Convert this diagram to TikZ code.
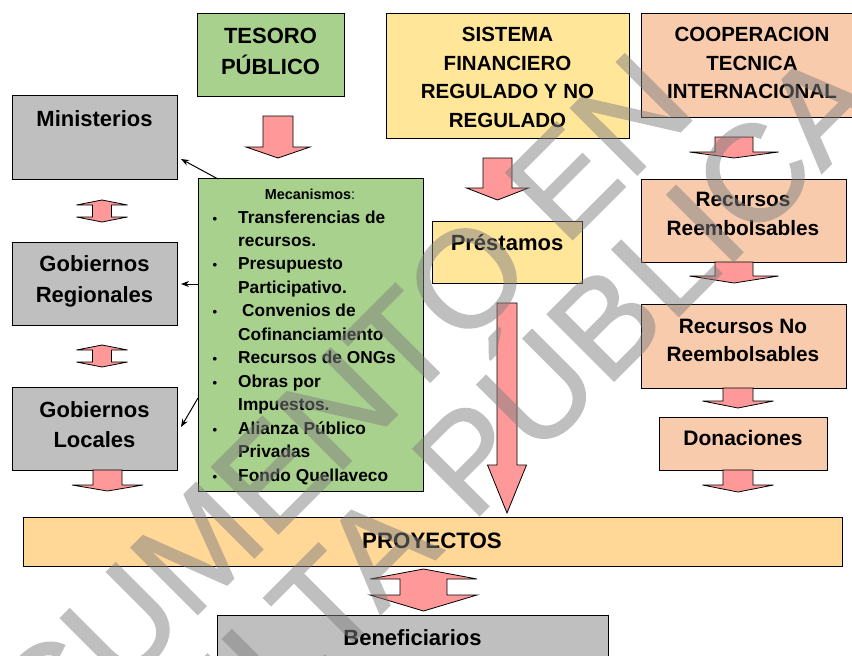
\documentclass[tikz,border=0pt]{standalone}
\usepackage{fontspec}
\setmainfont{Liberation Sans}
\newfontfamily\wmfont[FakeBold=1.2]{Liberation Sans}
\usetikzlibrary{arrows.meta}
\definecolor{cgreen}{HTML}{A9D18E}
\definecolor{cyellow}{HTML}{FFE699}
\definecolor{cpeach}{HTML}{F8CBAD}
\definecolor{cgray}{HTML}{BFBFBF}
\definecolor{corange}{HTML}{FFD797}
\definecolor{cpink}{HTML}{FF9999}
\newcommand{\BArrowDown}[6]{\draw[barrow] ({#1-#5},#2) -- ({#1+#5},#2) -- ({#1+#5},#3) -- ({#1+#6},#3) -- (#1,#4) -- ({#1-#6},#3) -- ({#1-#5},#3) -- cycle;}
\newcommand{\BArrowBoth}[7]{\draw[barrow] (#1,#2) -- ({#1+#7},#3) -- ({#1+#6},#3) -- ({#1+#6},#4) -- ({#1+#7},#4) -- (#1,#5) -- ({#1-#7},#4) -- ({#1-#6},#4) -- ({#1-#6},#3) -- ({#1-#7},#3) -- cycle;}
\newcommand{\MkBox}[6]{\node[box, fill=#6, minimum width={(#4-#2)*1pt}, minimum height={(#5-#3)*1pt}] (#1) at (#2,#3) {};}
\begin{document}
\begin{tikzpicture}[x=1pt,y=-1pt,
  box/.style={draw=black, line width=1.4pt, inner sep=0pt, anchor=north west},
  txt/.style={anchor=base, inner sep=0pt, font=\bfseries\fontsize{#1}{#1}\selectfont},
  txt/.default=22,
  itm/.style={anchor=base west, inner sep=0pt, font=\bfseries\fontsize{17.3}{17.3}\selectfont},
  bul/.style={anchor=base, inner sep=0pt, font=\bfseries\fontsize{13}{13}\selectfont},
  barrow/.style={fill=cpink, draw=black, line width=0.8pt, line join=miter},
  thinarr/.style={-{Stealth[length=8pt,width=6pt]}, line width=1pt},
  wm/.style={anchor=base, inner sep=0pt, rotate=45, text=black!50,
     font=\wmfont\fontsize{137}{137}\selectfont}]
\useasboundingbox (0,0) rectangle (852,656);
\clip (0,0) rectangle (852,656);
\fill[white] (0,0) rectangle (852,656);

% boxes
\MkBox{tes}{197}{13}{344}{96}{cgreen}
\MkBox{sis}{386}{13}{629}{138}{cyellow}
\MkBox{coo}{641}{13}{870}{117}{cpeach}
\MkBox{min}{12}{95}{177}{179}{cgray}
\MkBox{reg}{12}{242}{177}{325}{cgray}
\MkBox{loc}{12}{387}{177}{470}{cgray}
\MkBox{mec}{198}{178}{423}{491}{cgreen}
\MkBox{pre}{432}{221}{582}{283}{cyellow}
\MkBox{rre}{641}{179}{846}{262}{cpeach}
\MkBox{rno}{641}{304}{846}{388}{cpeach}
\MkBox{don}{659}{417}{827}{470}{cpeach}
\MkBox{pro}{23}{517}{842}{566}{corange}
\MkBox{ben}{217}{615}{608}{700}{cgray}

% texts
\node[txt] (t1) at (270.5,43.5) {TESORO};
\node[txt] (t2) at (270.5,74) {PÚBLICO};
\node[txt=20.5] (s1) at (507.5,41.7) {SISTEMA};
\node[txt=20.5] (s2) at (507.5,70.2) {FINANCIERO};
\node[txt=20.5] (s3) at (507.5,98.8) {REGULADO Y NO};
\node[txt=20.5] (s4) at (507.5,127.5) {REGULADO};
\node[txt=20.5] (c1) at (752,41.7) {COOPERACION};
\node[txt=20.5] (c2) at (752,70.2) {TECNICA};
\node[txt=20.5] (c3) at (752,98.8) {INTERNACIONAL};
\node[txt] (m1) at (94.5,126) {Ministerios};
\node[txt] (g1) at (94.5,271.7) {Gobiernos};
\node[txt] (g2) at (94.5,302.3) {Regionales};
\node[txt] (l1) at (94.5,417.3) {Gobiernos};
\node[txt] (l2) at (94.5,447.7) {Locales};
\node[txt] (p1) at (507,250) {Préstamos};
\node[txt=20.8] (r1) at (743,206.7) {Recursos};
\node[txt=20.8] (r2) at (743,235.7) {Reembolsables};
\node[txt=20.8] (n1) at (743,333) {Recursos No};
\node[txt=20.8] (n2) at (743,361) {Reembolsables};
\node[txt=21] (d1) at (743,445) {Donaciones};
\node[txt=22.3] (y1) at (432,548.3) {PROYECTOS};
\node[txt] (b1) at (412.5,645) {Beneficiarios};

% mecanismos
\node[txt=14.4] (mt) at (310,199) {Mecanismos\mdseries:};
\node[bul] (u1) at (215,223) {•};
\node[itm] (i1) at (238,223) {Transferencias de};
\node[itm] (i1b) at (238,246) {recursos.};
\node[bul] (u2) at (215,269.5) {•};
\node[itm] (i2) at (238,269.5) {Presupuesto};
\node[itm] (i2b) at (238,293) {Participativo.};
\node[bul] (u3) at (215,316.5) {•};
\node[itm] (i3) at (242,316.5) {Convenios de};
\node[itm] (i3b) at (238,340) {Cofinanciamiento};
\node[bul] (u4) at (215,363.5) {•};
\node[itm] (i4) at (238,363.5) {Recursos de ONGs};
\node[bul] (u5) at (215,387) {•};
\node[itm] (i5) at (238,387) {Obras por};
\node[itm] (i5b) at (238,410.5) {Impuestos.};
\node[bul] (u6) at (215,434) {•};
\node[itm] (i6) at (238,434) {Alianza Público};
\node[itm] (i6b) at (238,457.5) {Privadas};
\node[bul] (u7) at (215,481) {•};
\node[itm] (i7) at (238,481) {Fondo Quellaveco};

% block arrows
\BArrowDown{278}{116}{147}{158}{15}{32}
\BArrowDown{497.5}{158}{188}{200}{14.5}{31}
\BArrowDown{734}{137}{152}{158}{19}{44.5}
\BArrowDown{734}{262}{276}{283}{19}{44.5}
\BArrowDown{738}{388}{401}{408}{15}{35.5}
\BArrowDown{738}{470}{485}{492}{15}{35.5}
\BArrowDown{507}{303}{465}{513}{10}{19.5}
\BArrowDown{107.5}{470}{485}{491}{14.5}{35.5}
\BArrowBoth{102}{200}{205}{217}{222}{9.5}{25.5}
\BArrowBoth{102}{345}{350}{362}{367}{9.5}{25.5}
\BArrowBoth{423.5}{569}{579}{595}{611}{23.5}{53.5}

% thin arrows
\coordinate (a1s) at (218,179); \coordinate (a1e) at (181,159);
\coordinate (a2s) at (198,284); \coordinate (a2e) at (181,284);
\coordinate (a3s) at (198,398); \coordinate (a3e) at (181,427);
\draw[thinarr] (a1s) -- (a1e);
\draw[thinarr] (a2s) -- (a2e);
\draw[thinarr] (a3s) -- (a3e);

% watermark
\begin{scope}[transparency group, opacity=0.5]
\node[wm] (wm1) at (302,510) {DOCUMENTO EN};
\node[wm] (wm2) at (409,586) {CONSULTA PÚBLICA};
\end{scope}
\end{tikzpicture}
\end{document}
